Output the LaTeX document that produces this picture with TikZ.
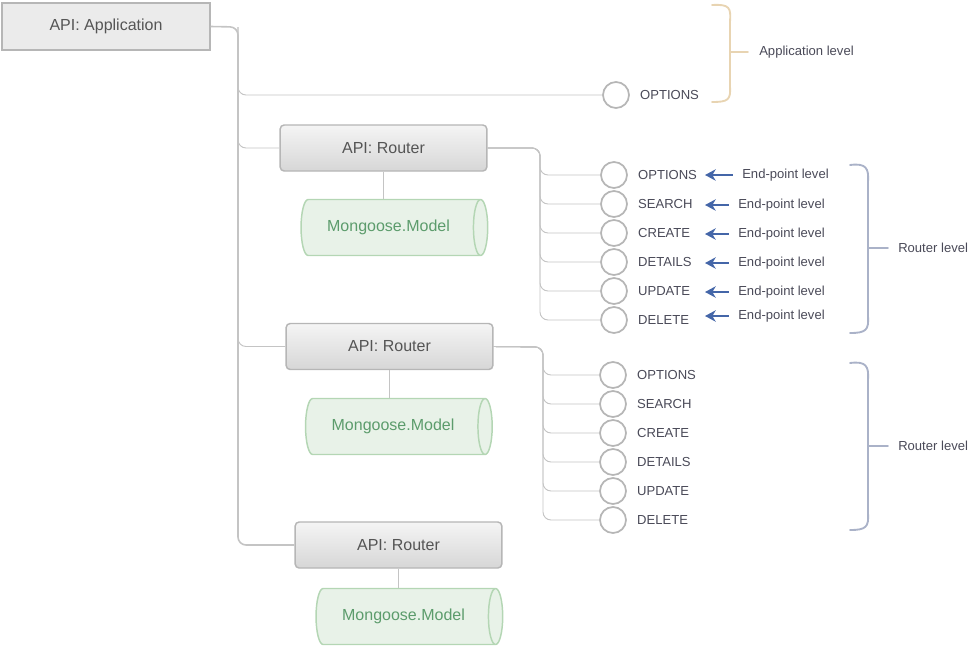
\documentclass[tikz,border=0pt]{standalone}
\usepackage{fontspec}
\setmainfont{Liberation Sans}
\usetikzlibrary{arrows.meta}
\usetikzlibrary{calc}
\usetikzlibrary{positioning}
\usetikzlibrary{shapes}
\definecolor{boxline}{HTML}{B6B6B6}
\definecolor{boxtext}{HTML}{555555}
\definecolor{appfill}{HTML}{EBEBEB}
\definecolor{linkgray}{HTML}{C4C4C4}
\definecolor{modelfill}{HTML}{E8F2E8}
\definecolor{modelline}{HTML}{B4D6B4}
\definecolor{modeltext}{HTML}{5C9C6C}
\definecolor{eptext}{HTML}{4A4A58}
\definecolor{arrowblue}{HTML}{4466A8}
\definecolor{appbrace}{HTML}{E8D4B2}
\definecolor{routerbrace}{HTML}{AAB2C8}
\tikzset{
  apibox/.style={
    draw=boxline, fill=appfill, line width=1.1pt,
    minimum width=156pt, minimum height=35pt,
    font=\fontsize{12}{14}\selectfont, text=boxtext
  },
  routerbox/.style={
    draw=boxline, top color=white!96!black, bottom color=white!84!black,
    rounded corners=3pt, line width=1.1pt,
    minimum width=155pt, minimum height=34.5pt,
    font=\fontsize{12}{14}\selectfont, text=boxtext
  },
  modelbox/.style={
    cylinder, shape aspect=0.6, draw=modelline, fill=modelfill, line width=1.1pt,
    minimum width=42pt, minimum height=140pt,
    font=\fontsize{12}{14}\selectfont, text=modeltext
  },
  endpoint/.style={
    circle, draw=boxline, fill=white, line width=1.3pt,
    minimum size=19.5pt, inner sep=0
  },
  eplabel/.style={anchor=west, inner sep=0, font=\fontsize{9.8}{12}\selectfont, text=eptext},
  link/.style={draw=linkgray, line width=0.7pt, rounded corners=6pt},
  trunk/.style={draw=linkgray, line width=1.2pt, rounded corners=6pt},
  arrow/.style={-{Stealth[length=8pt, width=8.5pt, inset=2.5pt]}, shorten <=7pt, line width=1.8pt, draw=arrowblue},
  levelbrace/.style={line width=1.4pt, line cap=round}
}
\begin{document}
\begin{tikzpicture}[x=0.75pt, y=-0.75pt]
  \useasboundingbox (0,0) rectangle (977,647);

  % application and routers
  \node[apibox] (app) at (106,26.5) {API: Application};
  \node[routerbox] (r1) at (383.5,148) {API: Router};
  \node[routerbox] (r2) at (389.5,346.5) {API: Router};
  \node[routerbox] (r3) at (398.5,545) {API: Router};
  \node[modelbox] (m1) at (388.5,227.5) {Mongoose.Model};
  \node[modelbox] (m2) at (393,426.5) {Mongoose.Model};
  \node[modelbox] (m3) at (403.5,616.5) {Mongoose.Model};
  \draw[link] (r1.south) -- (r1.south |- m1.north);
  \draw[link] (r2.south) -- (r2.south |- m2.north);
  \draw[link] (r3.south) -- (r3.south |- m3.north);

  % application level end-point
  \node[endpoint] (appopt) at (616,95) {};
  \node[eplabel, right=7.5pt of appopt] (tappopt) {OPTIONS};

  \coordinate (trunk) at (238,27);
  \draw[trunk] (app.east) -- (trunk) |- (r3.west);
  \draw[link] (trunk) |- (appopt.west);
  \draw[link] (trunk) |- (r1.west);
  \draw[link] (trunk) |- (r2.west);

  % router end-points
  \coordinate (bus1) at (540,148);
  \coordinate (bus2) at (543,347);
  \foreach \m [count=\i] in {OPTIONS,SEARCH,CREATE,DETAILS,UPDATE,DELETE} {
    \node[endpoint] (a\i) at (614,{146+29*\i}) {};
    \node[eplabel, right=7.5pt of a\i] (ta\i) {\m};
    \draw[link] (r1.east) -- (bus1) |- (a\i.west);
    \node[endpoint] (b\i) at (613,{346+29*\i}) {};
    \node[eplabel, right=7.5pt of b\i] (tb\i) {\m};
    \draw[link] (r2.east) -- (bus2) |- (b\i.west);
  }

  % end-point level arrows
  \coordinate (tip) at (705,0);
  \foreach \x/\y [count=\i] in {742/175,738/205,738/234,738/263,738/292,738/316} {
    \node[eplabel] (lv\i) at (\x,\y) {End-point level};
    \draw[arrow] (lv\i.west) -- (lv\i.west -| tip);
  }

  % level braces
  \draw[levelbrace, draw=appbrace]
    (712,5) .. controls (730,4) and (731,8) .. (730,22) -- (730,86)
    .. controls (731,100) and (728,102) .. (712,102);
  \draw[levelbrace, draw=appbrace] (730,52) -- (748,52);
  \node[eplabel] (applevel) at (759,52) {Application level};

  \draw[levelbrace, draw=routerbrace]
    (850,165) .. controls (866,163) and (869,168) .. (868,182) -- (868,316)
    .. controls (869,330) and (866,333) .. (850,333);
  \draw[levelbrace, draw=routerbrace] (868,248) -- (888,248);
  \node[eplabel] (rlevel1) at (898,248) {Router level};

  \draw[levelbrace, draw=routerbrace]
    (850,363) .. controls (866,361) and (869,366) .. (868,380) -- (868,513)
    .. controls (869,527) and (866,530) .. (850,530);
  \draw[levelbrace, draw=routerbrace] (868,446) -- (888,446);
  \node[eplabel] (rlevel2) at (898,446) {Router level};
\end{tikzpicture}
\end{document}
